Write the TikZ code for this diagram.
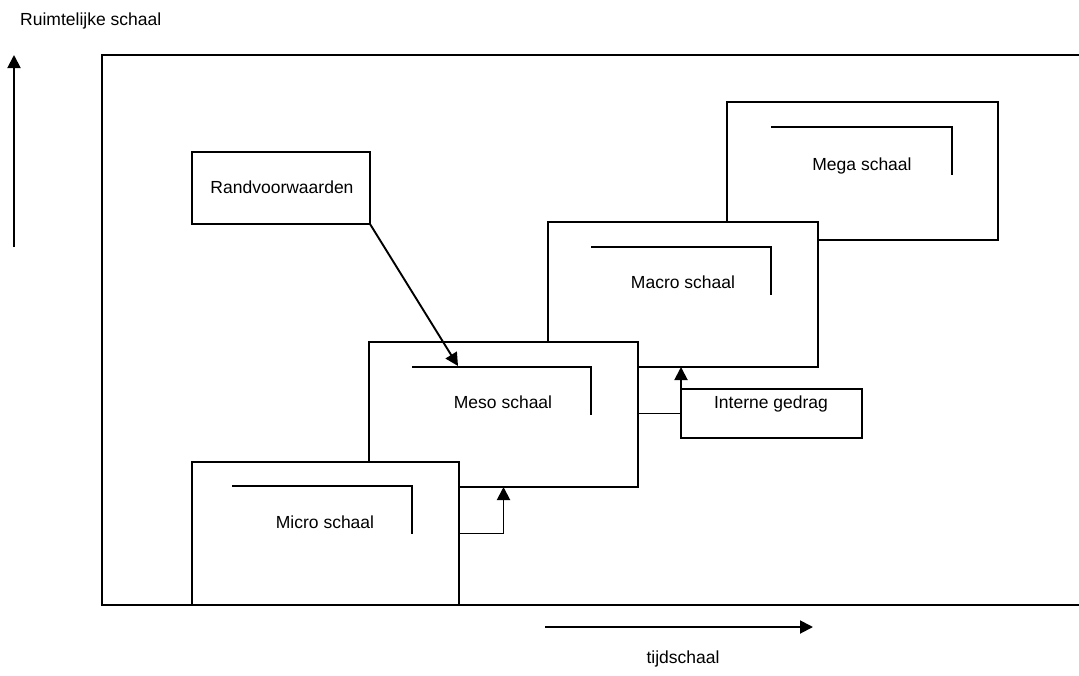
\documentclass[tikz,border=0pt]{standalone}
\usepackage{fontspec}
\setmainfont{Liberation Sans}
\usetikzlibrary{arrows.meta}
\begin{document}
\begin{tikzpicture}[x=1pt,y=-1pt,
  ln/.style={line width=1.9pt},
  box/.style={draw,ln,fill=white,rectangle,inner sep=0pt,outer sep=0pt,anchor=north west},
  lbl/.style={inner sep=0pt,anchor=base,font=\fontsize{17.5}{20}\selectfont},
  arr/.style={ln,-{Triangle[length=13pt,width=13pt]}}]
\useasboundingbox (0,0) rectangle (1079,675);
% frame
\coordinate (f1) at (1079,55);
\coordinate (f2) at (102,55);
\coordinate (f3) at (102,605);
\coordinate (f4) at (1079,605);
\draw[ln] (f1) -- (f2) -- (f3) -- (f4);
% axes
\coordinate (ya) at (14,247);
\coordinate (yb) at (14,55);
\draw[arr] (ya) -- (yb);
\coordinate (xa) at (545,627);
\coordinate (xb) at (813,627);
\draw[arr] (xa) -- (xb);
\node[lbl,anchor=base west] (ylab) at (20,25) {Ruimtelijke schaal};
\node[lbl] (xlab) at (683,663) {tijdschaal};
% boxes (back to front)
\node[box,minimum width=271pt,minimum height=138pt] (mega) at (727,102) {};
\draw[ln] (771,127) -| (952,175);
\node[lbl] (megat) at (862,170) {Mega schaal};
\node[box,minimum width=270pt,minimum height=145pt] (macro) at (548,222) {};
\draw[ln] (591,247) -| (771,295);
\node[lbl] (macrot) at (683,288) {Macro schaal};
\node[box,minimum width=269pt,minimum height=145pt] (meso) at (369,342) {};
\draw[ln] (412,367) -| (591,415);
\node[lbl] (mesot) at (503,408) {Meso schaal};
\node[box,minimum width=267pt,minimum height=143pt] (micro) at (192,462) {};
\draw[ln] (232,486) -| (412,534);
\node[lbl] (microt) at (325,528) {Micro schaal};
\node[box,minimum width=178pt,minimum height=72pt] (rand) at (192,152) {};
\node[lbl] (randt) at (282,193) {Randvoorwaarden};
\node[box,minimum width=181pt,minimum height=49pt] (interne) at (681,389) {};
\node[lbl] (internet) at (771,408) {Interne gedrag};
% connectors
\coordinate (mesoin) at (458,366);
\draw[arr] (rand.south east) -- (mesoin);
\draw[arr] (micro.east) -| (meso.south);
\draw[ln] (meso.east |- interne.west) -- (interne.west);
\draw[arr] (interne.north west) -- (interne.north west |- macro.south);
\end{tikzpicture}
\end{document}
